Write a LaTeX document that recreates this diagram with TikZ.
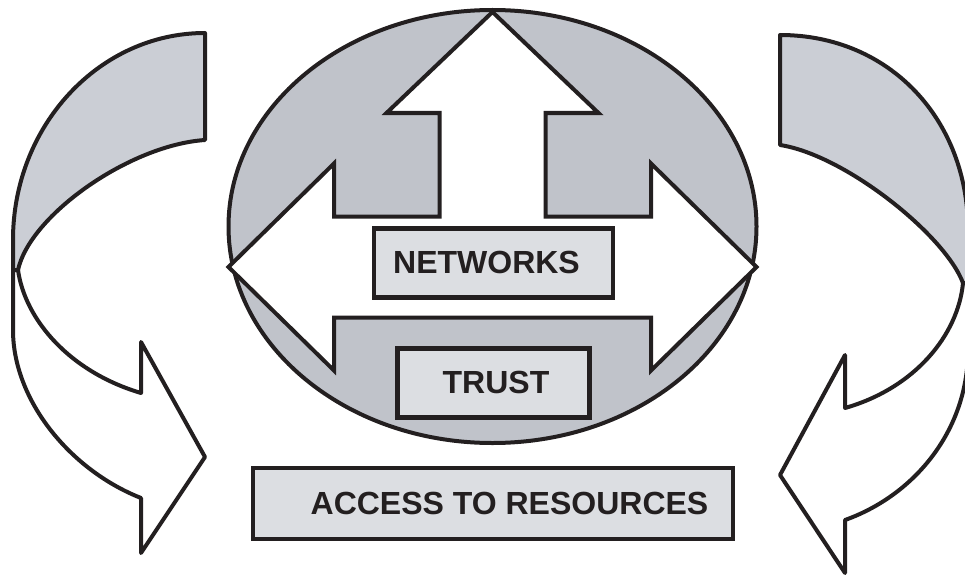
\documentclass[tikz,border=0pt]{standalone}
\usepackage{fontspec}
\setmainfont{Liberation Sans}
\usetikzlibrary{shapes.geometric}
\definecolor{ink}{HTML}{231F20}
\definecolor{ovalgrey}{HTML}{C0C3CA}
\definecolor{bandgrey}{HTML}{CBCED5}
\definecolor{boxgrey}{HTML}{DCDEE2}
\begin{document}
\begin{tikzpicture}[x=1pt,y=-1pt,
  outline/.style={draw=ink,line width=4pt},
  sidearrow/.style={draw=ink,line width=4pt,line join=round},
  labelbox/.style={draw=ink,line width=4.8pt,fill=boxgrey,inner sep=0pt,
    font=\bfseries\fontsize{32}{38}\selectfont,text=ink}]
\useasboundingbox (0,0) rectangle (965,575);

% left curved arrow
\path[sidearrow,fill=bandgrey] (205,33) .. controls (99,33) and (13,126) .. (13,240)
  -- (13,270) -- (18,270) .. controls (30,215) and (130,145) .. (205,140) -- cycle;
\path[sidearrow,fill=white] (13,270) -- (13,330) .. controls (13,400) and (70,470) .. (141,498)
  -- (141,553) -- (205,457) -- (141,342) -- (141,393)
  .. controls (70,372) and (25,320) .. (18,270) -- cycle;

% right curved arrow
\path[sidearrow,fill=bandgrey] (780,35) .. controls (890,35) and (968,120) .. (968,230)
  -- (968,283) -- (963,283) .. controls (945,235) and (845,155) .. (780,145) -- cycle;
\path[sidearrow,fill=white] (968,283) -- (968,350) .. controls (968,430) and (915,495) .. (845,520)
  -- (845,573) -- (780,475) -- (845,355) -- (845,408)
  .. controls (915,388) and (958,335) .. (963,283) -- cycle;

% oval
\node[ellipse,draw=ink,line width=4pt,fill=ovalgrey,minimum width=528pt,
  minimum height=433pt,inner sep=0pt] (oval) at (492.5,226.5) {};

% central arrows
\draw[outline,fill=white] (492.5,12) -- (598.5,113) -- (545.5,113) -- (545.5,216.5)
  -- (651,216.5) -- (651,163.5) -- (756.5,267) -- (651,370.5) -- (651,317.5)
  -- (334,317.5) -- (334,370.5) -- (228.5,267) -- (334,163.5) -- (334,216.5)
  -- (439.5,216.5) -- (439.5,113) -- (386.5,113) -- cycle;

% labels
\node[labelbox,minimum width=239pt,minimum height=69pt] (networks) at (493.5,262.7) {NETWORKS\hspace*{14pt}};
\node[labelbox,minimum width=192pt,minimum height=69pt] (trust) at (493.5,382.7) {\hspace*{5pt}TRUST};
\node[labelbox,minimum width=480pt,minimum height=71pt] (access) at (493,503.5) {\hspace*{33pt}ACCESS TO RESOURCES};
\end{tikzpicture}
\end{document}
